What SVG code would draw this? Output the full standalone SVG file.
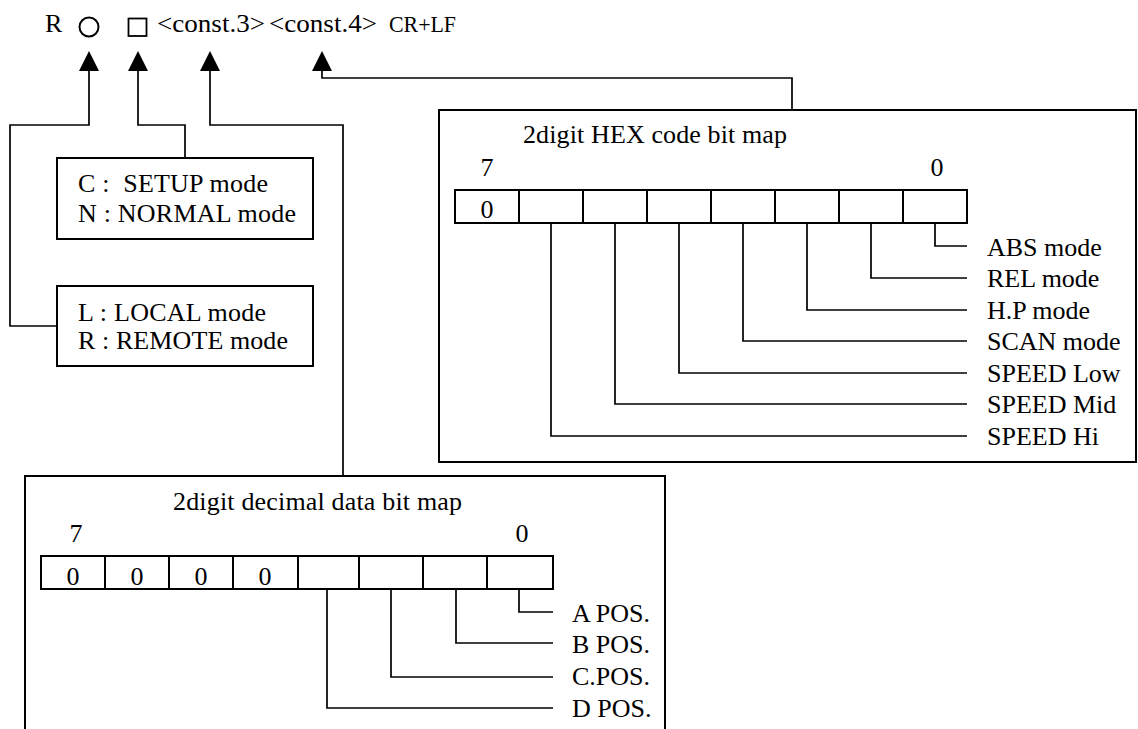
<svg xmlns="http://www.w3.org/2000/svg" width="1138" height="729" viewBox="0 0 1138 729">
<style>
text{font-family:"Liberation Serif","Times New Roman",serif;font-size:26px;fill:#000}
.box{fill:none;stroke:#000;stroke-width:2}
.ln{fill:none;stroke:#000;stroke-width:1.7}
.c{text-anchor:middle}
</style>
<defs>
<polygon id="ah" points="0,0 -10,20 10,20" fill="#000"/>
</defs>
<rect width="1138" height="729" fill="#fff"/>
<g id="header">
<text x="45" y="32">R</text>
<circle cx="89" cy="27" r="9.5" fill="none" stroke="#000" stroke-width="2"/>
<rect x="128.5" y="18.5" width="18" height="17.5" fill="none" stroke="#000" stroke-width="1.8"/>
<text x="157" y="32" textLength="108" lengthAdjust="spacingAndGlyphs">&lt;const.3&gt;</text>
<text x="269" y="32" textLength="108" lengthAdjust="spacingAndGlyphs">&lt;const.4&gt;</text>
<text x="389" y="32" textLength="67" lengthAdjust="spacingAndGlyphs" style="font-size:24px">CR+LF</text>
</g>
<g id="connectors">
<use href="#ah" x="89" y="51"/>
<use href="#ah" x="138" y="51"/>
<use href="#ah" x="210" y="51"/>
<use href="#ah" x="322" y="51"/>
<path class="ln" d="M89,70 V125 H10 V326 H57"/>
<path class="ln" d="M138,70 V125 H185 V158"/>
<path class="ln" d="M210,70 V125 H343 V476"/>
<path class="ln" d="M322,70 V78 H792 V110"/>
</g>
<g id="setup-box">
<rect class="box" x="57" y="158" width="256" height="81"/>
<text x="78" y="192" textLength="190" lengthAdjust="spacing" xml:space="preserve">C :  SETUP mode</text>
<text x="78" y="222" textLength="218" lengthAdjust="spacing">N : NORMAL mode</text>
</g>
<g id="local-box">
<rect class="box" x="57" y="286" width="256" height="80"/>
<text x="78" y="321" textLength="188" lengthAdjust="spacing">L : LOCAL mode</text>
<text x="78" y="349" textLength="210" lengthAdjust="spacing">R : REMOTE mode</text>
</g>
<g id="hex-box">
<rect class="box" x="439" y="110" width="697" height="352"/>
<text x="523" y="143" textLength="264" lengthAdjust="spacing">2digit HEX code bit map</text>
<text class="c" x="487" y="176">7</text>
<text class="c" x="937" y="176">0</text>
<path class="box" d="M455,190 H967 V223 H455 Z M519,190 V223 M583,190 V223 M647,190 V223 M711,190 V223 M775,190 V223 M839,190 V223 M903,190 V223"/>
<text class="c" x="487" y="218">0</text>
<path class="ln" d="M935,223 V246 H967 M871,223 V278 H967 M807,223 V310 H967 M743,223 V341 H967 M679,223 V373 H967 M615,223 V404 H967 M551,223 V436 H967"/>
<text x="987" y="256">ABS mode</text>
<text x="987" y="287">REL mode</text>
<text x="987" y="319">H.P mode</text>
<text x="987" y="350">SCAN mode</text>
<text x="987" y="382">SPEED Low</text>
<text x="987" y="413">SPEED Mid</text>
<text x="987" y="445">SPEED Hi</text>
</g>
<g id="decimal-box">
<path class="box" d="M25,735 V476 H665 V735"/>
<text x="173" y="510" textLength="289" lengthAdjust="spacing">2digit decimal data bit map</text>
<text class="c" x="76" y="542">7</text>
<text class="c" x="522" y="542">0</text>
<path class="box" d="M41,556 H553 V589 H41 Z M105,556 V589 M169,556 V589 M233,556 V589 M298,556 V589 M359,556 V589 M423,556 V589 M487,556 V589"/>
<text class="c" x="73" y="585">0</text>
<text class="c" x="137" y="585">0</text>
<text class="c" x="201" y="585">0</text>
<text class="c" x="265" y="585">0</text>
<path class="ln" d="M519,589 V612 H553 M456,589 V643 H553 M391,589 V677 H553 M327,589 V708 H553"/>
<text x="572" y="622">A POS.</text>
<text x="572" y="653">B POS.</text>
<text x="572" y="685">C.POS.</text>
<text x="572" y="717">D POS.</text>
</g>
</svg>
